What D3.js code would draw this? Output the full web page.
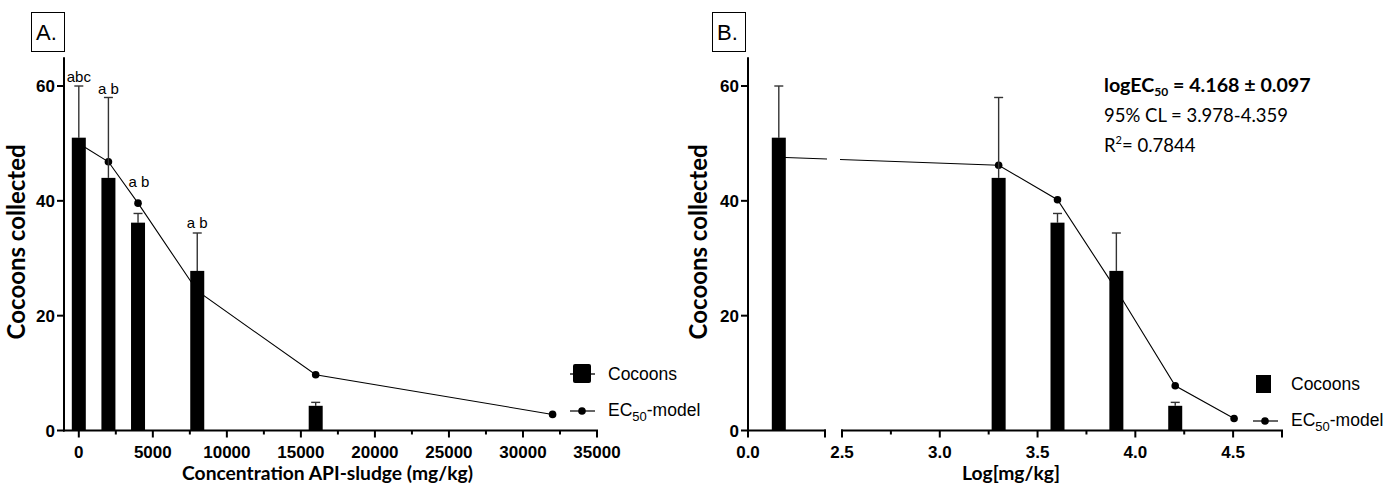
<!DOCTYPE html>
<html>
<head>
<meta charset="utf-8">
<script src="https://cdn.jsdelivr.net/npm/d3@7"></script>
<style>
  html, body { margin: 0; padding: 0; background: #fff; }
  svg { display: block; }
</style>
</head>
<body>
<svg id="chart" width="1396" height="491"></svg>
<script>
// Cocoon counts per API-sludge concentration
const concentrations = [0, 2000, 4000, 8000, 16000];
const logConcentrations = [0.1, 3.301, 3.602, 3.903, 4.204];
const cocoons = [51, 44, 36.2, 27.8, 4.3];
const cocoonsUpper = [60, 58, 37.8, 34.4, 4.9];
const letters = ["abc", "a b", "a b", "a b"];
const letterAnchor = [60.7, 58.6, 42.4, 35.3];

// EC50 model fits
const modelConcA = [0, 2000, 4000, 8000, 16000, 32000];
const modelA = [50.0, 46.8, 39.6, 24.3, 9.7, 2.8];
const modelLogB = [0.1, 3.301, 3.602, 3.903, 4.204, 4.505];
const modelB = [47.6, 46.2, 40.2, 24.5, 7.8, 2.1];

// Axis ticks
const yTicks = [0, 20, 40, 60];
const xTicksA = [0, 5000, 10000, 15000, 20000, 25000, 30000, 35000];
const xMinorA = [2500, 7500, 12500, 17500, 22500, 27500, 32500];
const xTicksB = [2.5, 3.0, 3.5, 4.0, 4.5];
const xMinorB = [2.75, 3.25, 3.75, 4.25];

const stats = {
  ec50: "4.168 \u00B1 0.097",
  cl: "95% CL = 3.978-4.359",
  r2: "= 0.7844"
};

const svg = d3.select("#chart");
const ARIAL = "'Liberation Sans', Arial, sans-serif";
const CALIBRI = "Lato, 'Open Sans', sans-serif";
const BAR_W = 14;

const y = d3.scaleLinear().domain([0, 65]).range([430.5, 57.3]);

function fitWidth(sel, target) {
  const w = sel.node().getComputedTextLength();
  const fs = parseFloat(sel.attr("font-size"));
  sel.attr("font-size", (fs * target / w).toFixed(2));
}

function yAxis(g, x0, labelX) {
  g.append("line").attr("x1", x0).attr("x2", x0)
    .attr("y1", y(65)).attr("y2", y(0) + 1)
    .attr("stroke", "#000").attr("stroke-width", 2);
  yTicks.forEach(t => {
    g.append("line").attr("x1", x0 - 7).attr("x2", x0)
      .attr("y1", y(t)).attr("y2", y(t))
      .attr("stroke", "#000").attr("stroke-width", 2);
    g.append("text").attr("x", x0 - 9).attr("y", y(t) + 6)
      .attr("text-anchor", "end").attr("font-family", ARIAL)
      .attr("font-weight", "bold").attr("font-size", 17).text(t);
  });
  const cy = (y(65) + y(0)) / 2 - 2;
  const lab = g.append("text")
    .attr("transform", `translate(${labelX},${cy}) rotate(-90)`)
    .attr("text-anchor", "middle").attr("font-family", CALIBRI)
    .attr("font-weight", "bold").attr("font-size", 17)
    .text("Cocoons collected");
  fitWidth(lab, 195);
}

function panelLabel(g, x0, txt) {
  g.append("rect").attr("x", x0 + 0.5).attr("y", 12.5).attr("width", 33).attr("height", 39)
    .attr("fill", "#fff").attr("stroke", "#000").attr("stroke-width", 1);
  g.append("text").attr("x", x0 + 5).attr("y", 40).attr("font-family", ARIAL)
    .attr("font-size", 22).text(txt);
}

function drawBars(g, xs, vals, upper, xfun) {
  // error bars (upper only)
  xs.forEach((xv, i) => {
    const cx = xfun(xv);
    g.append("line").attr("x1", cx).attr("x2", cx)
      .attr("y1", y(vals[i])).attr("y2", y(upper[i]))
      .attr("stroke", "#333").attr("stroke-width", 1.4);
    g.append("line").attr("x1", cx - 4.5).attr("x2", cx + 4.5)
      .attr("y1", y(upper[i])).attr("y2", y(upper[i]))
      .attr("stroke", "#333").attr("stroke-width", 1.4);
  });
  g.selectAll(null).data(xs).enter().append("rect")
    .attr("x", d => xfun(d) - BAR_W / 2)
    .attr("width", BAR_W)
    .attr("y", (d, i) => y(vals[i]))
    .attr("height", (d, i) => y(0) - y(vals[i]))
    .attr("fill", "#000");
}

function legend(g, x0, yTop, whiskers) {
  if (whiskers) {
    g.append("line").attr("x1", x0 - 3).attr("x2", x0 + 22).attr("y1", yTop + 10).attr("y2", yTop + 10)
      .attr("stroke", "#000").attr("stroke-width", 1.3);
    g.append("rect").attr("x", x0).attr("y", yTop).attr("width", 18).attr("height", 19)
      .attr("rx", 2).attr("fill", "#000");
  } else {
    g.append("rect").attr("x", x0).attr("y", yTop + 1).attr("width", 15).attr("height", 18)
      .attr("fill", "#000");
  }
  g.append("text").attr("x", x0 + 35).attr("y", yTop + 16).attr("font-family", ARIAL)
    .attr("font-size", 17.5).text("Cocoons");
  const ly = yTop + 47;
  g.append("line").attr("x1", x0 - 3).attr("x2", x0 + 22).attr("y1", ly).attr("y2", ly)
    .attr("stroke", "#000").attr("stroke-width", 1.2);
  g.append("circle").attr("cx", x0 + 9).attr("cy", ly).attr("r", 3.8).attr("fill", "#000");
  const t = g.append("text").attr("x", x0 + 35).attr("y", ly + 5).attr("font-family", ARIAL)
    .attr("font-size", 17.5);
  t.append("tspan").text("EC");
  t.append("tspan").attr("font-size", 13).attr("dy", 5).text("50");
  t.append("tspan").attr("dy", -5).text("-model");
}

// ---------- Panel A ----------
const gA = svg.append("g");
const xA = d3.scaleLinear().domain([-1000, 35000]).range([64, 597]);

panelLabel(gA, 31, "A.");

// model line and points
const lineA = d3.line().x((d, i) => xA(modelConcA[i])).y(d => y(d));
gA.append("path").datum(modelA).attr("d", lineA)
  .attr("fill", "none").attr("stroke", "#000").attr("stroke-width", 1.1);
gA.selectAll(null).data(modelA).enter().append("circle")
  .attr("cx", (d, i) => xA(modelConcA[i])).attr("cy", d => y(d))
  .attr("r", 3.8).attr("fill", "#000");

drawBars(gA, concentrations, cocoons, cocoonsUpper, xA);

letters.forEach((s, i) => {
  const cx = xA(concentrations[i]) + (i === 2 ? 1 : 0);
  gA.append("text").attr("x", cx).attr("y", y(letterAnchor[i]))
    .attr("text-anchor", "middle").attr("font-family", ARIAL)
    .attr("font-size", 15).text(s);
});

// x axis A
gA.append("line").attr("x1", 63).attr("x2", xA(35000) + 1).attr("y1", y(0)).attr("y2", y(0))
  .attr("stroke", "#000").attr("stroke-width", 2);
xTicksA.forEach(t => {
  gA.append("line").attr("x1", xA(t)).attr("x2", xA(t)).attr("y1", y(0)).attr("y2", y(0) + 7)
    .attr("stroke", "#000").attr("stroke-width", 2);
  gA.append("text").attr("x", xA(t)).attr("y", 458).attr("text-anchor", "middle")
    .attr("font-family", ARIAL).attr("font-weight", "bold").attr("font-size", 17)
    .text(t);
});
xMinorA.forEach(t => {
  gA.append("line").attr("x1", xA(t)).attr("x2", xA(t)).attr("y1", y(0)).attr("y2", y(0) + 4)
    .attr("stroke", "#000").attr("stroke-width", 2);
});
const xlabA = gA.append("text").attr("x", 327.5).attr("y", 480).attr("text-anchor", "middle")
  .attr("font-family", CALIBRI).attr("font-weight", "bold").attr("font-size", 17)
  .text("Concentration API-sludge (mg/kg)");
fitWidth(xlabA, 291);

yAxis(gA, 64, 25);
legend(gA, 573, 364, true);

// ---------- Panel B ----------
const gB = svg.append("g");
const xB1 = d3.scaleLinear().domain([0, 0.25]).range([748, 825]);
const xB2 = d3.scaleLinear().domain([2.5, 4.75]).range([842, 1282]);
const xB = v => (v <= 0.25 ? xB1(v) : xB2(v));

panelLabel(gB, 712, "B.");

// clip regions for the broken axis
const defs = svg.append("defs");
defs.append("clipPath").attr("id", "segL").append("rect")
  .attr("x", 700).attr("y", 0).attr("width", 827 - 700).attr("height", 491);
defs.append("clipPath").attr("id", "segR").append("rect")
  .attr("x", 840).attr("y", 0).attr("width", 560).attr("height", 491);

const lineB = d3.line().x((d, i) => xB(modelLogB[i])).y(d => y(d));
["segL", "segR"].forEach(id => {
  gB.append("path").datum(modelB).attr("d", lineB).attr("clip-path", `url(#${id})`)
    .attr("fill", "none").attr("stroke", "#000").attr("stroke-width", 1.1);
});
gB.selectAll(null).data(modelB).enter().append("circle")
  .attr("cx", (d, i) => xB(modelLogB[i])).attr("cy", d => y(d))
  .attr("r", 3.8).attr("fill", "#000");

drawBars(gB, logConcentrations, cocoons, cocoonsUpper, xB);

// x axis B, left segment
gB.append("line").attr("x1", 747).attr("x2", 826).attr("y1", y(0)).attr("y2", y(0))
  .attr("stroke", "#000").attr("stroke-width", 2);
gB.append("line").attr("x1", 825).attr("x2", 825).attr("y1", y(0) - 1).attr("y2", y(0) + 7)
  .attr("stroke", "#000").attr("stroke-width", 2);
gB.append("line").attr("x1", 748).attr("x2", 748).attr("y1", y(0)).attr("y2", y(0) + 7)
  .attr("stroke", "#000").attr("stroke-width", 2);
gB.append("text").attr("x", xB1(0)).attr("y", 458).attr("text-anchor", "middle")
  .attr("font-family", ARIAL).attr("font-weight", "bold").attr("font-size", 17).text("0.0");
// right segment
gB.append("line").attr("x1", 841).attr("x2", 1283).attr("y1", y(0)).attr("y2", y(0))
  .attr("stroke", "#000").attr("stroke-width", 2);
gB.append("line").attr("x1", 1282).attr("x2", 1282).attr("y1", y(0)).attr("y2", y(0) + 7)
  .attr("stroke", "#000").attr("stroke-width", 2);
xTicksB.forEach(t => {
  gB.append("line").attr("x1", xB2(t)).attr("x2", xB2(t))
    .attr("y1", y(0) - (t === 2.5 ? 1 : 0)).attr("y2", y(0) + 7)
    .attr("stroke", "#000").attr("stroke-width", 2);
  gB.append("text").attr("x", xB2(t)).attr("y", 458).attr("text-anchor", "middle")
    .attr("font-family", ARIAL).attr("font-weight", "bold").attr("font-size", 17)
    .text(d3.format(".1f")(t));
});
xMinorB.forEach(t => {
  gB.append("line").attr("x1", xB2(t)).attr("x2", xB2(t)).attr("y1", y(0)).attr("y2", y(0) + 4)
    .attr("stroke", "#000").attr("stroke-width", 2);
});
const xlabB = gB.append("text").attr("x", 1011).attr("y", 480).attr("text-anchor", "middle")
  .attr("font-family", CALIBRI).attr("font-weight", "bold").attr("font-size", 17)
  .text("Log[mg/kg]");
fitWidth(xlabB, 98);

yAxis(gB, 748, 707);
legend(gB, 1256, 374, false);

// fit statistics
const s1 = gB.append("text").attr("x", 1104).attr("y", 92).attr("font-family", CALIBRI)
  .attr("font-weight", "bold").attr("font-size", 17);
s1.append("tspan").text("logEC");
s1.append("tspan").attr("font-size", 12).attr("dy", 4).text("50");
s1.append("tspan").attr("dy", -4).text(" =  " + stats.ec50);
fitWidth(s1, 209);
const s2 = gB.append("text").attr("x", 1104).attr("y", 122).attr("font-family", CALIBRI)
  .attr("font-size", 17).text(stats.cl);
fitWidth(s2, 184);
const s3 = gB.append("text").attr("x", 1104).attr("y", 152).attr("font-family", CALIBRI)
  .attr("font-size", parseFloat(s2.attr("font-size")));
s3.append("tspan").text("R");
s3.append("tspan").attr("font-size", 11).attr("dy", -8).text("2");
s3.append("tspan").attr("dy", 8).text(stats.r2);
</script>
</body>
</html>
